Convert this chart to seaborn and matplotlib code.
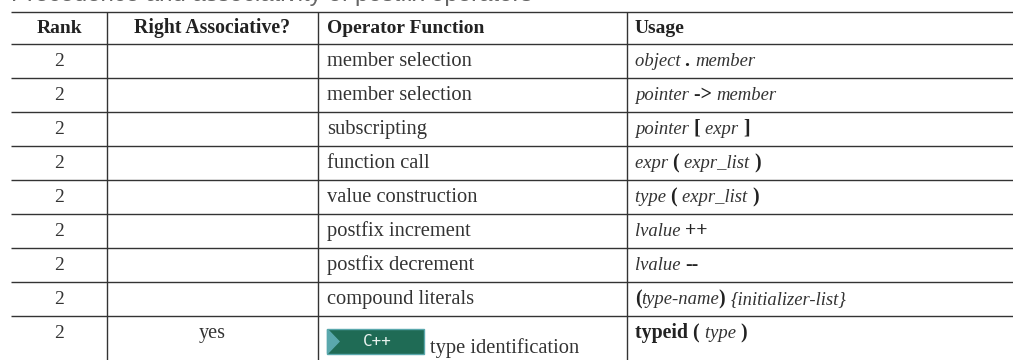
import matplotlib
matplotlib.use("Agg")
import matplotlib.pyplot as plt
import seaborn as sns

sns.set_theme(style="white")
plt.rcParams["font.family"] = ["Liberation Serif", "DejaVu Serif"]

W, H = 1013, 360
headers = ["Rank", "Right Associative?", "Operator Function", "Usage"]
ranks = ["2"] * 9
right_assoc = [""] * 8 + ["yes"]
functions = ["member selection", "member selection", "subscripting", "function call",
             "value construction", "postfix increment", "postfix decrement",
             "compound literals", "type identification"]
usage = [
    [("object ", "i"), (". ", "b"), ("member", "i")],
    [("pointer ", "i"), ("-> ", "b"), ("member", "i")],
    [("pointer ", "i"), ("[ ", "b"), ("expr ", "i"), ("]", "b")],
    [("expr ", "i"), ("( ", "b"), ("expr_list ", "i"), (")", "b")],
    [("type ", "i"), ("( ", "b"), ("expr_list ", "i"), (")", "b")],
    [("lvalue ", "i"), ("++", "b")],
    [("lvalue ", "i"), ("--", "b")],
    [("(", "b"), ("type-name", "i"), (") ", "b"), ("{initializer-list}", "i")],
    [("typeid ( ", "b"), ("type ", "i"), (")", "b")],
]
col_lines = [107, 318, 627]
row_lines = [12, 43.5, 77.5, 111.5, 145.5, 179.5, 213.5, 247.5, 281.5, 315.5]
table_left, table_right = 11, 1013
title = "Precedence and associativity of postfix operators"

fig = plt.figure(figsize=(W / 100, H / 100), dpi=100)
ax = fig.add_axes([0, 0, 1, 1])
ax.set_xlim(0, W)
ax.set_ylim(H, 0)
ax.axis("off")
sns.despine(ax=ax, left=True, bottom=True)
renderer = fig.canvas.get_renderer()

ink = "#333333"
for y in row_lines:
    ax.hlines(y, table_left, table_right, color=ink, lw=1.0)
for x in col_lines:
    ax.vlines(x, row_lines[0], H, color=ink, lw=1.0)

ax.text(11, 1.5, title, family="Liberation Sans", fontsize=17.3, color="#666666", va="baseline")

fs = 14
body_fs = 14.8
italic_fs = 13.4
header_base = 33
hc = "#222222"
cx = [(table_left + col_lines[0]) / 2, (col_lines[0] + col_lines[1]) / 2]
ax.text(cx[0], header_base, headers[0], ha="center", va="baseline", fontsize=fs, weight="bold", color=hc)
ax.text(cx[1], header_base, headers[1], ha="center", va="baseline", fontsize=fs + 0.2, weight="bold", color=hc)
ax.text(327, header_base, headers[2], va="baseline", fontsize=fs, weight="bold", color=hc)
ax.text(635, header_base, headers[3], va="baseline", fontsize=fs, weight="bold", color=hc)


def draw_segments(x, base, segs):
    for s, kind in segs:
        style = "italic" if kind == "i" else "normal"
        weight = "bold" if kind == "b" else "normal"
        size = italic_fs if kind == "i" else fs + 0.3
        t = ax.text(x, base, s, va="baseline", fontsize=size, style=style, weight=weight,
                    color="#222222" if kind == "b" else "#333333")
        tw, _, _ = renderer.get_text_width_height_descent(s.replace(" ", "\u00a0"), t.get_fontproperties(), False)
        x += tw


for i in range(9):
    base = row_lines[i + 1] + 22.5
    ax.text(cx[0], base, ranks[i], ha="center", va="baseline", fontsize=fs, color="#333333")
    ax.text(cx[1], base, right_assoc[i], ha="center", va="baseline", fontsize=fs + 0.5, color="#333333")
    if i < 8:
        ax.text(327, base, functions[i], va="baseline", fontsize=body_fs, color="#333333")
    else:
        ax.add_patch(plt.Rectangle((327, 329), 97, 25, fc="#1f6b55", ec="#5aa8ad", lw=1))
        ax.fill([327.5, 339, 327.5], [329.5, 341.5, 353.5], color="#5aa8ad")
        ax.text(377, 341.5, "C++", ha="center", va="center", fontsize=11.5,
                family="DejaVu Sans Mono", color="#e8f2ee")
        ax.text(430, 353, functions[i], va="baseline", fontsize=body_fs, color="#333333")
    draw_segments(635, base, usage[i])

fig.savefig("out.png", dpi=100)
